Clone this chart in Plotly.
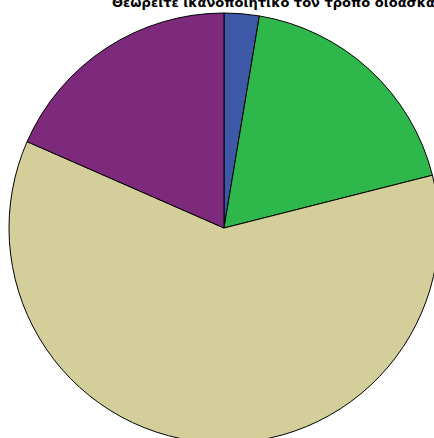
import plotly.graph_objects as go

title_text = "Θεωρείτε ικανοποιητικό τον τρόπο διδασκαλίας του μαθήματος;"
categories = ["Καθόλου", "Λίγο", "Αρκετά", "Πολύ"]
counts = [1, 7, 23, 7]
colors = ["#3E58A8", "#2EB84B", "#D4CF9A", "#7D2A7C"]

W, H = 448, 456
fig = go.Figure(go.Pie(
    labels=categories,
    values=counts,
    sort=False,
    direction="clockwise",
    rotation=0,
    marker=dict(colors=colors, line=dict(color="#000000", width=1)),
    textinfo="none",
    hoverinfo="label+value+percent",
    domain=dict(x=[9 / W, 439 / W], y=[(H - 443) / H, (H - 13) / H]),
    showlegend=False,
))

fig.add_annotation(
    text="<b>" + title_text + "</b>",
    xref="paper", yref="paper",
    x=110 / W, y=1 - 2 / H,
    xanchor="left", yanchor="middle",
    showarrow=False,
    font=dict(family="DejaVu Sans", size=13, color="#000000"),
)

fig.update_layout(
    width=W, height=H,
    margin=dict(l=0, r=0, t=0, b=0),
    paper_bgcolor="white",
    plot_bgcolor="white",
)

fig.write_html(
    "out.html",
    config={"displayModeBar": False},
    post_script="document.body.style.margin='0';document.body.style.overflow='hidden';",
)
